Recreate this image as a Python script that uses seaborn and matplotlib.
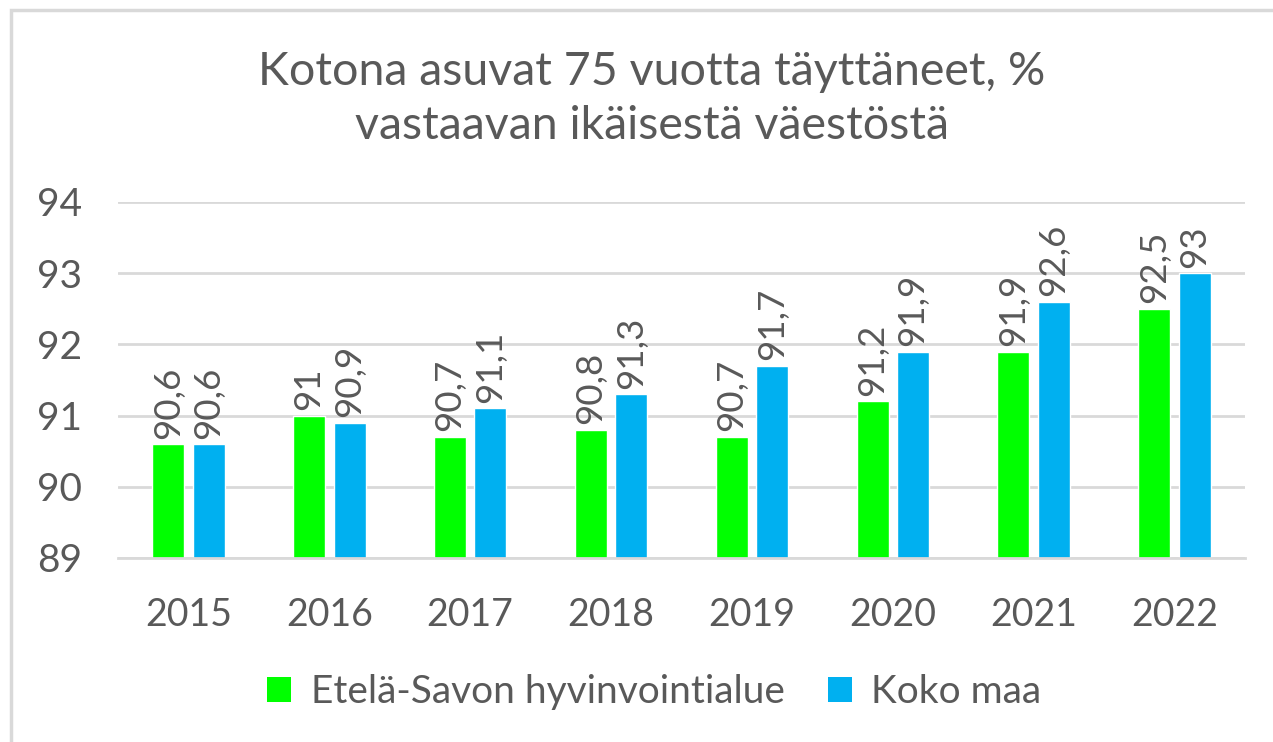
import matplotlib
matplotlib.use("Agg")
import matplotlib.pyplot as plt
import seaborn as sns
import pandas as pd
from matplotlib.patches import Rectangle, Patch

years = ["2015", "2016", "2017", "2018", "2019", "2020", "2021", "2022"]
etela_savo = [90.6, 91.0, 90.7, 90.8, 90.7, 91.2, 91.9, 92.5]
koko_maa = [90.6, 90.9, 91.1, 91.3, 91.7, 91.9, 92.6, 93.0]
series_names = ["Etelä-Savon hyvinvointialue", "Koko maa"]
title = "Kotona asuvat 75 vuotta täyttäneet, %\nvastaavan ikäisestä väestöstä"

df = pd.DataFrame({
    "Vuosi": years * 2,
    "Arvo": etela_savo + koko_maa,
    "Sarja": [series_names[0]] * len(years) + [series_names[1]] * len(years),
})

sns.set_theme(style="white")
plt.rcParams["font.family"] = ["Lato", "DejaVu Sans"]
txt = "#595959"
grid = "#D9D9D9"
colors = ["#00FF00", "#00B0F0"]

fig = plt.figure(figsize=(12.73, 7.42), dpi=100)
ax = fig.add_axes([118/1273, 1-558/742, (1245-118)/1273, (558-202)/742])

sns.barplot(data=df, x="Vuosi", y="Arvo", hue="Sarja", palette=colors,
            width=0.575, gap=0.21, ax=ax, legend=False, saturation=1)

ax.set_ylim(89, 94)
ax.set_yticks([89, 90, 91, 92, 93, 94])
ax.yaxis.grid(True, color=grid, linewidth=2)
ax.set_axisbelow(True)
for s in ["left", "right", "top"]:
    ax.spines[s].set_visible(False)
ax.spines["bottom"].set_color(grid)
ax.spines["bottom"].set_linewidth(2)
ax.tick_params(axis="x", length=0, labelsize=27, labelcolor=txt, pad=28)
ax.tick_params(axis="y", length=0, labelsize=28, labelcolor=txt, pad=26)
ax.set_xlabel("")
ax.set_ylabel("")

for cont in ax.containers:
    labels = [f"{v:g}".replace(".", ",") for v in cont.datavalues]
    ax.bar_label(cont, labels=labels, rotation=90, padding=4,
                 fontsize=26.5, color=txt)

fig.text(0.512, 1-99/742, title, ha="center", va="center", fontsize=33.5,
         color=txt, linespacing=1.38)

handles = [Patch(facecolor=c, edgecolor="none") for c in colors]
fig.legend(handles, series_names, loc="center", bbox_to_anchor=(0.514, 1-692/742),
           ncol=2, frameon=False, fontsize=28, labelcolor=txt,
           handlelength=0.62, handleheight=0.62, handletextpad=0.5, columnspacing=1.1)

fig.patches.append(Rectangle((11/1273, -0.1), 1.2, 1-10/742+0.1,
                             transform=fig.transFigure, fill=False,
                             edgecolor=grid, linewidth=2.5))

fig.savefig("out.png", dpi=100)
